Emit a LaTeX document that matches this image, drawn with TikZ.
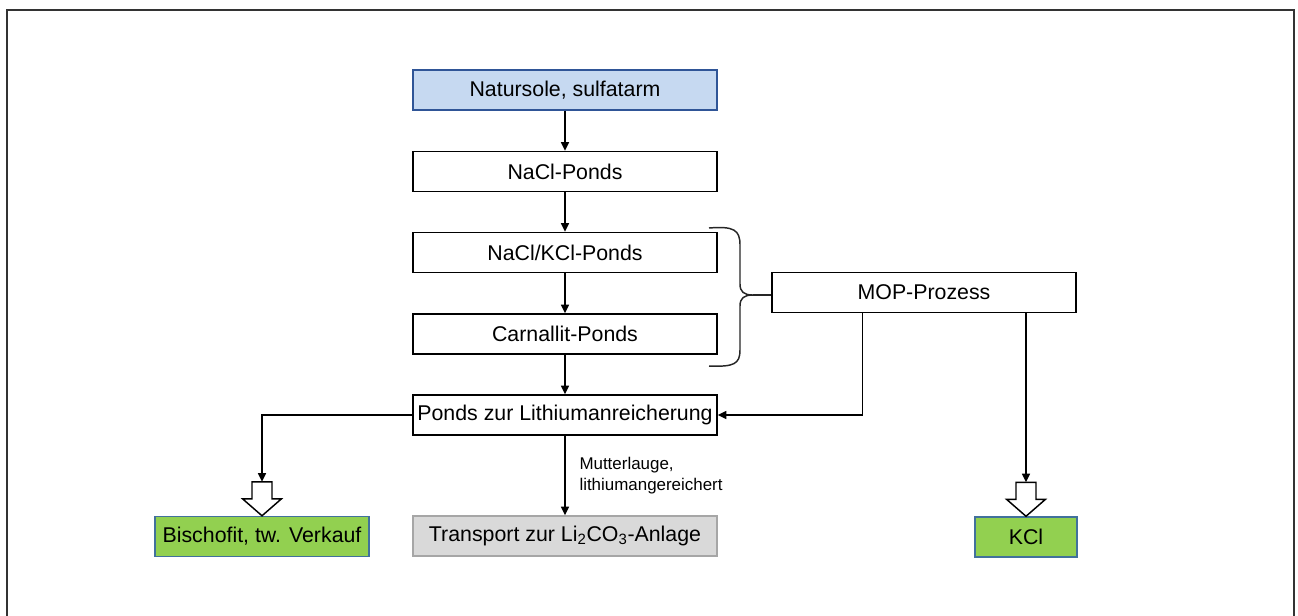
\documentclass[tikz,border=0pt]{standalone}
\usepackage{fontspec}
\setmainfont{Liberation Sans}
\usetikzlibrary{arrows.meta,calc}
\definecolor{srcfill}{HTML}{C6D9F1}
\definecolor{srcline}{HTML}{2F5597}
\definecolor{prodfill}{HTML}{92D050}
\definecolor{prodline}{HTML}{41719C}
\definecolor{grayfill}{HTML}{D9D9D9}
\definecolor{grayline}{HTML}{A6A6A6}
\begin{document}
\begin{tikzpicture}[x=0.75pt,y=-0.75pt,
  box/.style={draw=black,line width=1.1pt,fill=white,minimum width=228pt,minimum height=30pt,
    inner sep=0pt,font=\fontsize{16}{19}\selectfont},
  srcbox/.style={box,fill=srcfill,draw=srcline},
  prodbox/.style={box,fill=prodfill,draw=prodline},
  graybox/.style={box,fill=grayfill,draw=grayline},
  flow/.style={line width=1.1pt,-{Triangle[length=6.5pt,width=6pt]}},
  blockarrow/.pic={\draw[line width=1.1pt,fill=white] (-10,0) -- (10,0) -- (10,17) -- (19.5,17) -- (0,34) -- (-19.5,17) -- (-10,17) -- cycle;}
]
\useasboundingbox (0,0) rectangle (1298,615);
% outer frame
\draw[line width=1pt,black!80] (7,620) -- (7,10) -- (1294,10) -- (1294,620);

% process chain
\node[srcbox] (src) at (565,90) {Natursole, sulfatarm};
\node[box] (nacl) at (565,171.5) {NaCl-Ponds};
\node[box] (kcl) at (565,252.5) {NaCl/KCl-Ponds};
\node[box] (carn) at (565,334) {Carnallit-Ponds};
\node[box] (li) at (565,415) {Ponds zur Lithiumanreicherung};
\node[graybox] (trans) at (565,536) {Transport zur Li\textsubscript{2}CO\textsubscript{3}-Anlage};
\node[prodbox,minimum width=160.5pt] (bis) at (262,536.5) {Bischofit, tw. Verkauf};
\node[prodbox,minimum width=76.5pt] (kclp) at (1026,537) {KCl};
\node[box] (mop) at (924,292.5) {MOP-Prozess};

\draw[flow] (src) -- (nacl);
\draw[flow] (nacl) -- (kcl);
\draw[flow] (kcl) -- (carn);
\draw[flow] (carn) -- (li);
\draw[flow] (li) -- (trans)
  node[pos=0.5,anchor=west,xshift=7pt,align=left,font=\fontsize{12.7}{15.8}\selectfont] {Mutterlauge,\\lithiumangereichert};

% side products with open block arrows
\coordinate (bisin) at ($(bis.north)+(0,-34)$);
\coordinate (kclin) at ($(kclp.north)+(0,-34)$);
\draw[flow] (li.west) -| (bisin);
\pic at (bisin) {blockarrow};
\draw[flow] (mop.south -| kclin) -- (kclin);
\pic at (kclin) {blockarrow};

% MOP return flow
\coordinate (mopret) at ($(mop.south west)+(91,0)$);
\draw[flow] (mopret) |- (li.east);

% brace grouping the KCl and carnallite ponds
\coordinate (btip) at (753,295);
\draw[line width=1.1pt,black!85]
  (709,228) .. controls (734,226) and (740,230) .. (740,245) -- (740,284)
  .. controls (740,292) and (744,295) .. (btip)
  .. controls (744,295) and (740,298) .. (740,306) -- (740,350)
  .. controls (740,364) and (734,367) .. (709,366);
\draw[line width=1.1pt,black!85] (btip) -- (mop.west |- btip);
\end{tikzpicture}
\end{document}
